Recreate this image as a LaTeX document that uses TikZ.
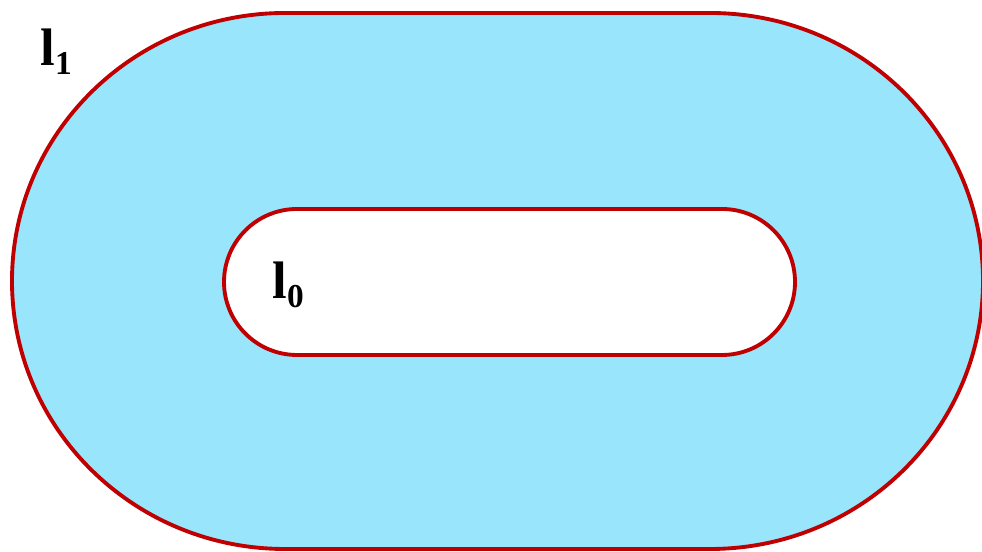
\documentclass[tikz,border=0pt]{standalone}
\usepackage{fontspec}
\setmainfont{Liberation Serif}
\definecolor{lagoon}{HTML}{99E6FC}
\definecolor{rim}{HTML}{C00000}

\begin{document}
\begin{tikzpicture}[rim line/.style={draw=rim, line width=2.2pt}]
      \useasboundingbox (0,0) rectangle (19.64,11.04);
      % outer track
      \fill[lagoon] (5.70,10.78) -- (14.20,10.78) arc (90:-90:5.46 and 5.36)
            -- (5.70,0.06) arc (270:90:5.46 and 5.36) -- cycle;
      % hole
      \fill[white] (5.94,6.86) -- (14.44,6.86) arc (90:-90:1.46)
            -- (5.94,3.94) arc (270:90:1.46) -- cycle;
      \draw[rim line] (5.70,10.78) -- (14.20,10.78) arc (90:-90:5.46 and 5.36)
            -- (5.70,0.06) arc (270:90:5.46 and 5.36) -- cycle;
      \draw[rim line] (5.94,6.86) -- (14.44,6.86) arc (90:-90:1.46)
            -- (5.94,3.94) arc (270:90:1.46) -- cycle;
      \node[anchor=base west, inner sep=0pt, font=\fontsize{30}{36}\selectfont\bfseries] (l1)
            at (0.80,9.72) {l\lower0.35ex\hbox{\fontsize{19}{19}\selectfont 1}};
      \node[anchor=base west, inner sep=0pt, font=\fontsize{30}{36}\selectfont\bfseries] (l0)
            at (5.44,5.06) {l\lower0.35ex\hbox{\fontsize{19}{19}\selectfont 0}};
    \end{tikzpicture}
\end{document}
